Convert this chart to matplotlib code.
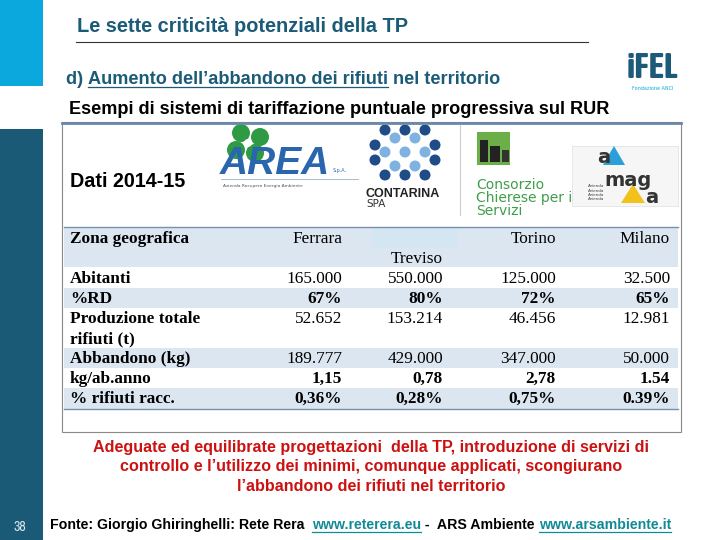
import matplotlib

matplotlib.use("Agg")
import matplotlib.pyplot as plt
from matplotlib.patches import Circle, Polygon, Rectangle

# table content
row_labels = ["Abitanti", "%RD", "Produzione totale\nrifiuti (t)", "Abbandono (kg)", "kg/ab.anno", "% rifiuti racc."]
cities = ["Ferrara", "Treviso", "Torino", "Milano"]
abitanti = ["165.000", "550.000", "125.000", "32.500"]
perc_rd = ["67%", "80%", "72%", "65%"]
produzione = ["52.652", "153.214", "46.456", "12.981"]
abbandono = ["189.777", "429.000", "347.000", "50.000"]
kg_ab_anno = ["1,15", "0,78", "2,78", "1.54"]
perc_racc = ["0,36%", "0,28%", "0,75%", "0.39%"]
bold_rows = [False, True, False, False, True, True]

red_lines = [
    "Adeguate ed equilibrate progettazioni  della TP, introduzione di servizi di",
    "controllo e l\u2019utilizzo dei minimi, comunque applicati, scongiurano",
    "l\u2019abbandono dei rifiuti nel territorio",
]

TEAL = "#1c5b78"
CYAN = "#0aa8dc"
LIGHT = "#dce6f1"
NARROW = ["Archivo Narrow", "Liberation Sans", "DejaVu Sans"]
CONDENSED = ["Asap Condensed", "Archivo Narrow", "Liberation Sans", "DejaVu Sans"]
SANS = ["Liberation Sans", "DejaVu Sans"]
SERIF = ["Liberation Serif", "DejaVu Serif"]

fig = plt.figure(figsize=(7.2, 5.4), dpi=100)
ax = fig.add_axes([0, 0, 1, 1])
ax.set_xlim(0, 720)
ax.set_ylim(540, 0)
ax.axis("off")
fig.canvas.draw()
renderer = fig.canvas.get_renderer()


def fit_size(s, width, family=SANS, weight="bold", base=12.0):
    # font size that makes s span the given width in pixels
    t = ax.text(0, 0, s, fontsize=base, family=family, weight=weight)
    w = t.get_window_extent(renderer).width
    t.remove()
    return base * width / w


def text_run(x, y, parts, size, family=SANS, weight="bold"):
    # parts: (text, color, underline)
    for s, color, underline in parts:
        t = ax.text(x, y, s, fontsize=size, color=color, family=family,
                    weight=weight, va="baseline", ha="left")
        bb = t.get_window_extent(renderer)
        x0, _ = ax.transData.inverted().transform((bb.x0, bb.y0))
        x1, _ = ax.transData.inverted().transform((bb.x1, bb.y0))
        if underline and s.strip():
            ax.plot([x0, x1], [y + 2.5, y + 2.5], color=color, lw=0.9)
        x = x1


# sidebar
ax.add_patch(Rectangle((0, 0), 43, 86, color=CYAN, lw=0))
ax.add_patch(Rectangle((0, 129), 43, 411, color="#1b5a76", lw=0))

# header
title = "Le sette criticit\u00e0 potenziali della TP"
ax.text(77, 32, title, fontsize=fit_size(title, 331), color=TEAL, family=SANS,
        weight="bold", va="baseline")
ax.plot([76, 588], [42, 42], color="#333333", lw=0.8)
sub_parts = [("d) ", TEAL, False),
             ("Aumento dell\u2019abbandono dei rifiuti", TEAL, True),
             (" nel territorio", TEAL, False)]
text_run(66, 84, sub_parts, fit_size("".join(p[0] for p in sub_parts), 429))
esempi = "Esempi di sistemi di tariffazione puntuale progressiva sul RUR"
ax.text(69, 114, esempi, fontsize=fit_size(esempi, 535), color="black", family=SANS,
        weight="bold", va="baseline")

# iFEL logo
ax.text(627, 78, "iFEL", fontsize=fit_size("iFEL", 52, family=CONDENSED), color=TEAL,
        family=CONDENSED, weight="bold", va="baseline")
ax.text(653, 88, "Fondazione ANCI", fontsize=3.5, color=CYAN, ha="center", va="center")

# outer box
ax.add_patch(Rectangle((62, 122), 619, 310, fill=False, ec="#8a8a8a", lw=0.8))
ax.plot([62, 681], [123, 123], color="#6a88aa", lw=2)
ax.text(70, 187, "Dati 2014-15", fontsize=fit_size("Dati 2014-15", 115), color="black",
        family=SANS, weight="bold", va="baseline")

# AREA logo
for cx, cy in [(241, 133), (260, 137), (236, 150), (255, 153)]:
    ax.add_patch(Circle((cx, cy), 9, color="#2f9a44", lw=0))
ax.add_patch(Circle((248, 143), 4, color="white", lw=0))
ax.text(220, 174, "AREA", fontsize=28, color="#2a66ad", family=SANS,
        weight="bold", style="italic", va="baseline")
ax.text(333, 172, "S.p.A.", fontsize=3.5, color="#2a66ad", va="baseline")
ax.plot([221, 358], [179, 179], color="#9ab0cc", lw=0.6)
ax.text(223, 184, "Azienda Recupero Energia Ambiente", fontsize=3.2, color="#555555", va="top")

# Contarina logo
for cx, cy in [(385, 130), (405, 130), (425, 130), (375, 145), (435, 145),
               (375, 160), (435, 160), (385, 175), (405, 175), (425, 175)]:
    ax.add_patch(Circle((cx, cy), 5.5, color="#1f4b87", lw=0))
for cx, cy in [(395, 138), (415, 138), (385, 152), (405, 152), (425, 152), (395, 166), (415, 166)]:
    ax.add_patch(Circle((cx, cy), 5.5, color="#7fb2e0", lw=0))
ax.text(366, 197, "CONTARINA", fontsize=9, color="#222222", family=SANS,
        weight="bold", va="baseline")
ax.text(366, 207, "SPA", fontsize=7.5, color="#333333", va="baseline")
ax.plot([460, 460], [125, 215], color="#cccccc", lw=0.8)

# Consorzio logo
ax.add_patch(Rectangle((477, 132), 33, 33, color="#6cae48", lw=0))
ax.add_patch(Rectangle((480, 140), 8, 22, color="#222222", lw=0))
ax.add_patch(Rectangle((490, 146), 10, 16, color="#222222", lw=0))
ax.add_patch(Rectangle((502, 150), 7, 12, color="#333333", lw=0))
for i, s in enumerate(["Consorzio", "Chierese per i", "Servizi"]):
    ax.text(476, 189 + i * 13, s, fontsize=10, color="#3f9e4a", va="baseline")

# aMaga logo
ax.add_patch(Rectangle((572, 146), 106, 60, fc="#f6f6f6", ec="#e0e0e0", lw=0.5))
ax.add_patch(Polygon([[614, 146], [625, 165], [603, 165]], color="#2a9fd8", lw=0))
ax.add_patch(Polygon([[633, 184], [645, 203], [621, 203]], color="#f2c21c", lw=0))
ax.text(597, 163, "a", fontsize=14, color="#333333", weight="bold", va="baseline")
ax.text(604, 186, "mag", fontsize=14, color="#333333", weight="bold", va="baseline")
ax.text(645, 203, "a", fontsize=14, color="#333333", weight="bold", va="baseline")
for i in range(4):
    ax.text(588, 187 + i * 4.5, "Azienda", fontsize=3, color="#444444", va="baseline")

# table
tab_x0, tab_x1 = 64, 678
col_right = [342, 443, 556, 670]
row_tops = [268, 288, 308, 348, 368, 388]
row_heights = [20, 20, 40, 20, 20, 21]
row_values = [abitanti, perc_rd, produzione, abbandono, kg_ab_anno, perc_racc]
TS = 12.4

ax.add_patch(Rectangle((tab_x0, 227), tab_x1 - tab_x0, 40, color=LIGHT, lw=0))
ax.add_patch(Rectangle((372, 228), 86, 20, color="#d3e6f2", lw=0))
ax.plot([tab_x0, tab_x1], [227, 227], color="#7890b0", lw=1)
ax.text(70, 243, "Zona geografica", fontsize=TS, family=SERIF, weight="bold", va="baseline")
for i, city in enumerate(cities):
    yb = 263 if city == "Treviso" else 243
    ax.text(col_right[i], yb, city, fontsize=TS, family=SERIF, ha="right", va="baseline")

for r, label in enumerate(row_labels):
    top, h = row_tops[r], row_heights[r]
    if r % 2 == 1:
        ax.add_patch(Rectangle((tab_x0, top), tab_x1 - tab_x0, h, color=LIGHT, lw=0))
    w = "bold" if bold_rows[r] else "normal"
    for k, line in enumerate(label.split("\n")):
        ax.text(70, top + 15 + k * 20, line, fontsize=TS, family=SERIF, weight="bold", va="baseline")
    for i, v in enumerate(row_values[r]):
        ax.text(col_right[i], top + 15, v, fontsize=TS, family=SERIF, weight=w,
                ha="right", va="baseline")
ax.plot([tab_x0, tab_x1], [409, 409], color="#7890b0", lw=1)

# red message
red_size = fit_size(red_lines[0], 551)
for i, line in enumerate(red_lines):
    ax.text(371, 452 + i * 19.5, line, fontsize=red_size, color="#cc1111", family=SANS,
            weight="bold", ha="center", va="baseline")

# footer
ax.text(20, 531, "38", fontsize=10, color="#d8e4ea", family=NARROW, ha="center", va="baseline")
LINK = "#128a96"
foot_parts = [("Fonte: Giorgio Ghiringhelli: Rete Rera  ", "black", False),
              ("www.reterera.eu", LINK, True),
              (" -  ARS Ambiente ", "black", False),
              ("www.arsambiente.it", LINK, True)]
text_run(50, 529, foot_parts, fit_size("".join(p[0] for p in foot_parts), 620))

fig.savefig("out.png", dpi=100)
